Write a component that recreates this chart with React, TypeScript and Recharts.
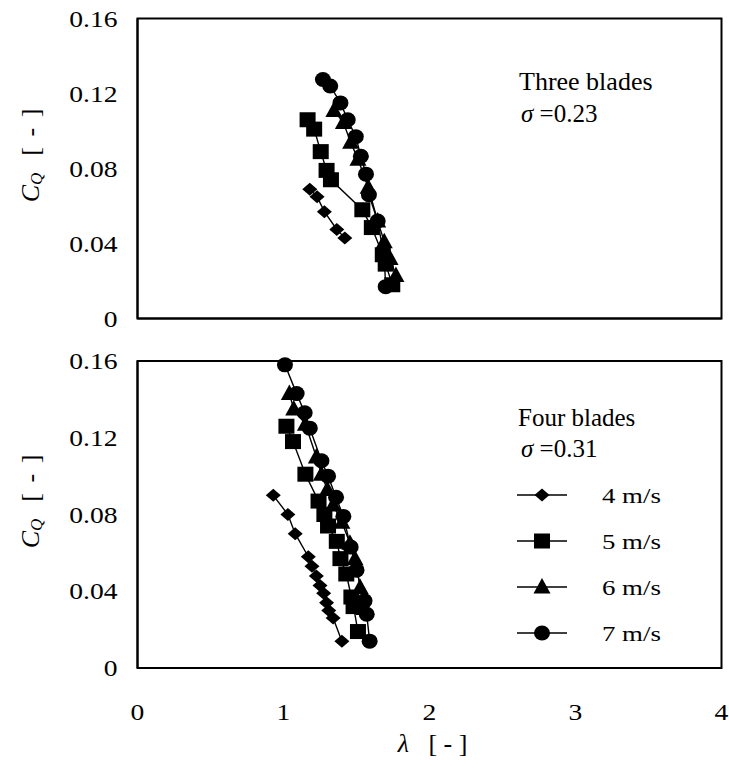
import React from "react";
import { ScatterChart, Scatter, XAxis, YAxis, Legend, Label, ReferenceArea } from "recharts";

const FONT = "Liberation Serif";

// wind speeds and their marker shapes
const speeds = ["4 m/s", "5 m/s", "6 m/s", "7 m/s"];
const markers = ["diamond", "square", "triangle", "circle"];

const xTicks = [0, 1, 2, 3, 4];
const yTicks = [0, 0.04, 0.08, 0.12, 0.16];

// three blades, sigma = 0.23  [lambda, CQ]
const three4 = [[1.18, 0.069], [1.23, 0.065], [1.28, 0.057], [1.365, 0.0475], [1.42, 0.043]];
const three5 = [[1.165, 0.106], [1.21, 0.101], [1.255, 0.089], [1.295, 0.079], [1.325, 0.074], [1.54, 0.058], [1.605, 0.0485], [1.68, 0.034], [1.7, 0.029], [1.745, 0.018]];
const three6 = [[1.345, 0.111], [1.41, 0.1045], [1.46, 0.094], [1.51, 0.085], [1.58, 0.07], [1.645, 0.052], [1.69, 0.041], [1.73, 0.032], [1.77, 0.023]];
const three7 = [[1.27, 0.1275], [1.32, 0.124], [1.39, 0.115], [1.44, 0.106], [1.495, 0.097], [1.53, 0.0865], [1.565, 0.077], [1.585, 0.066], [1.645, 0.052], [1.69, 0.0325], [1.7, 0.017]];

// four blades, sigma = 0.31
const four4 = [[0.93, 0.09], [1.03, 0.08], [1.08, 0.07], [1.17, 0.058], [1.195, 0.053], [1.225, 0.048], [1.25, 0.043], [1.275, 0.039], [1.295, 0.034], [1.31, 0.03], [1.34, 0.026], [1.4, 0.014]];
const four5 = [[1.02, 0.126], [1.065, 0.118], [1.15, 0.101], [1.24, 0.087], [1.28, 0.08], [1.305, 0.074], [1.365, 0.066], [1.39, 0.057], [1.43, 0.049], [1.465, 0.037], [1.48, 0.032], [1.51, 0.019]];
const four6 = [[1.04, 0.143], [1.07, 0.135], [1.15, 0.127], [1.225, 0.11], [1.26, 0.101], [1.3, 0.093], [1.34, 0.085], [1.4, 0.076], [1.455, 0.065], [1.49, 0.057], [1.525, 0.042], [1.55, 0.031]];
const four7 = [[1.01, 0.158], [1.09, 0.143], [1.145, 0.133], [1.18, 0.125], [1.26, 0.108], [1.305, 0.1], [1.36, 0.089], [1.41, 0.079], [1.46, 0.063], [1.5, 0.051], [1.555, 0.035], [1.57, 0.028], [1.59, 0.014]];

const toRows = (pts: number[][]) => pts.map(([lam, cq]) => ({ lam, cq }));

const txt = { fontFamily: FONT, fill: "#000" };

function Marker({ kind, cx, cy }: { kind: string; cx: number; cy: number }) {
  if (cx == null || cy == null) return null;
  if (kind === "circle") return <ellipse cx={cx} cy={cy} rx={8} ry={7.5} fill="#000" />;
  if (kind === "square") return <rect x={cx - 8} y={cy - 7.5} width={16} height={15} fill="#000" />;
  if (kind === "triangle")
    return <polygon points={`${cx},${cy - 9} ${cx + 8.5},${cy + 6.5} ${cx - 8.5},${cy + 6.5}`} fill="#000" />;
  return <polygon points={`${cx},${cy - 6.5} ${cx + 7.5},${cy} ${cx},${cy + 6.5} ${cx - 7.5},${cy}`} fill="#000" />;
}

const fmtY = (v: number) => (v === 0 ? "0" : v.toFixed(2));

// tick digits in the original are a bit wider than plain Times, hence the scaleX
const YTick = (p: any) => (
  <text
    transform={`translate(${p.x},${p.y}) scale(1.2,1)`}
    textAnchor="end"
    dominantBaseline="central"
    fontSize={23}
    fontFamily={FONT}
    style={txt}
  >
    {fmtY(p.payload.value)}
  </text>
);

const XTick = (p: any) => (
  <text
    transform={`translate(${p.x},${p.y}) scale(1.2,1)`}
    textAnchor="middle"
    dominantBaseline="central"
    fontSize={23}
    fontFamily={FONT}
    style={txt}
  >
    {p.payload.value}
  </text>
);

const YTitle = (props: any) => {
  const vb = props.viewBox || {};
  const cx = 30;
  const cy = vb.y + vb.height / 2 - 14;
  return (
    <text
      x={cx}
      y={cy}
      transform={`rotate(-90 ${cx} ${cy})`}
      textAnchor="middle"
      dominantBaseline="central"
      fontSize={26}
      fontFamily={FONT}
      style={{ ...txt, whiteSpace: "pre" }}
    >
      <tspan fontStyle="italic">C</tspan>
      <tspan fontStyle="italic" fontSize={17} dy={6}>Q</tspan>
      <tspan dy={-6} letterSpacing={2}>{"  [ - ]"}</tspan>
    </text>
  );
};

const XTitle = (props: any) => {
  const vb = props.viewBox || {};
  return (
    <text
      x={vb.x + vb.width / 2 + 3}
      y={vb.y + 75}
      textAnchor="middle"
      dominantBaseline="central"
      fontSize={26}
      fontFamily={FONT}
      style={{ ...txt, whiteSpace: "pre" }}
    >
      <tspan fontStyle="italic">λ</tspan>
      <tspan>{"   [ - ]"}</tspan>
    </text>
  );
};

const SpeedLegend = () => (
  <svg width={200} height={200}>
    {speeds.map((s, i) => {
      const y = 20 + i * 46;
      return (
        <g key={s}>
          <line x1={7} x2={57} y1={y} y2={y} stroke="#000" strokeWidth={1.6} />
          <Marker kind={markers[i]} cx={32} cy={y} />
          <text
            transform={`translate(92,${y}) scale(1.22,1)`}
            dominantBaseline="central"
            fontSize={22}
            fontFamily={FONT}
            style={txt}
          >
            {s}
          </text>
        </g>
      );
    })}
  </svg>
);

type PanelProps = {
  series: number[][][];
  height: number;
  margin: { top: number; right: number; bottom: number; left: number };
  bottomAxis: boolean;
  legend?: boolean;
};

function Panel({ series, height, margin, bottomAxis, legend }: PanelProps) {
  return (
    <ScatterChart width={729} height={height} margin={margin} style={{ fontFamily: FONT }}>
      <XAxis
        type="number"
        dataKey="lam"
        domain={[0, 4]}
        ticks={xTicks}
        axisLine={{ stroke: "#000", strokeWidth: 2 }}
        tickLine={false}
        tickSize={0}
        tickMargin={44}
        tick={bottomAxis ? <XTick /> : false}
        height={bottomAxis ? 60 : 21.5}
      >
        {bottomAxis && <Label content={<XTitle />} />}
      </XAxis>
      <YAxis
        type="number"
        dataKey="cq"
        domain={[0, 0.16]}
        ticks={yTicks}
        width={100}
        axisLine={{ stroke: "#000", strokeWidth: 2 }}
        tickLine={false}
        tickSize={0}
        tickMargin={20}
        tick={<YTick />}
      >
        <Label content={<YTitle />} />
      </YAxis>
      {/* plot frame */}
      <ReferenceArea
        x1={0}
        x2={4}
        y1={0}
        y2={0.16}
        fill="none"
        stroke="#000"
        strokeWidth={2}
        fillOpacity={0}
        ifOverflow="visible"
      />
      {series.map((pts, i) => (
        <Scatter
          key={speeds[i]}
          name={speeds[i]}
          data={toRows(pts)}
          fill="#000"
          line={{ stroke: "#000", strokeWidth: 1.4 }}
          shape={(p: any) => <Marker kind={markers[i]} cx={p.cx} cy={p.cy} />}
          isAnimationActive={false}
        />
      ))}
      {legend && (
        <Legend
          layout="horizontal"
          verticalAlign="middle"
          align="center"
          content={<SpeedLegend />}
          wrapperStyle={{ position: "absolute", left: 510, top: 135, width: 200, height: 200 }}
        />
      )}
    </ScatterChart>
  );
}

export default function App() {
  return (
    <div style={{ position: "relative", width: 729, height: 770, background: "#fff", fontFamily: FONT }}>
      <style>{`body{margin:0;background:#fff}`}</style>
      <div style={{ position: "absolute", left: 0, top: 0 }}>
        <Panel
          series={[three4, three5, three6, three7]}
          height={340}
          margin={{ top: 18.5, right: 7.5, bottom: 0, left: 37.5 }}
          bottomAxis={false}
        />
      </div>
      <div style={{ position: "absolute", left: 0, top: 340 }}>
        <Panel
          series={[four4, four5, four6, four7]}
          height={430}
          margin={{ top: 21, right: 7.5, bottom: 42, left: 37.5 }}
          bottomAxis={true}
          legend={true}
        />
      </div>
      <svg
        width={729}
        height={770}
        style={{ position: "absolute", left: 0, top: 0, pointerEvents: "none" }}
      >
        <text x={519} y={81} fontSize={26} dominantBaseline="central" fontFamily={FONT} fill="#000">Three blades</text>
        <text x={521} y={113} fontSize={25} dominantBaseline="central" fontFamily={FONT} fill="#000">
          <tspan fontStyle="italic">σ</tspan> =0.23
        </text>
        <text x={518} y={417} fontSize={25} dominantBaseline="central" fontFamily={FONT} fill="#000">Four blades</text>
        <text x={521} y={448} fontSize={25} dominantBaseline="central" fontFamily={FONT} fill="#000">
          <tspan fontStyle="italic">σ</tspan> =0.31
        </text>
      </svg>
    </div>
  );
}
